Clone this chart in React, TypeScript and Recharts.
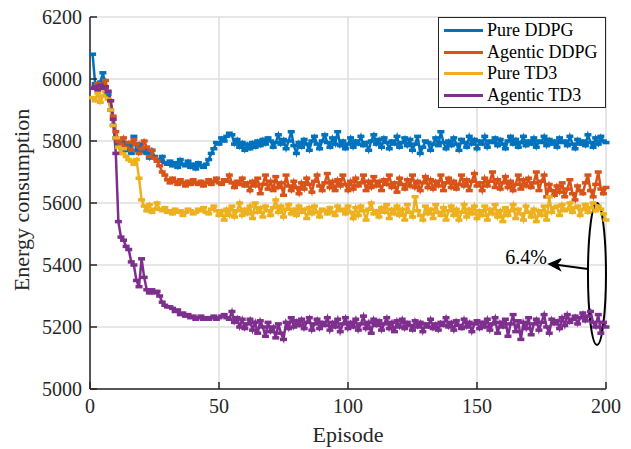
import React from 'react';
import { LineChart, Line, XAxis, YAxis, CartesianGrid, Legend, ReferenceDot } from 'recharts';

const FONT = "'Liberation Serif', 'Times New Roman', Tinos, serif";
const AXIS = '#262626';

const xTicks = [0, 50, 100, 150, 200];
const yTicks = [5000, 5200, 5400, 5600, 5800, 6000, 6200];

const pureDDPG = [
  6080, 5985, 5975, 5990, 6020, 5975, 5950, 5900, 5850, 5810,
  5790, 5780, 5795, 5770, 5785, 5760, 5815, 5770, 5790, 5765,
  5775, 5760, 5745, 5770, 5750, 5740, 5735, 5750, 5730, 5725,
  5735, 5720, 5730, 5715, 5740, 5725, 5720, 5735, 5715, 5725,
  5710, 5730, 5720, 5715, 5725, 5740, 5760, 5775, 5795, 5790,
  5810, 5800, 5815, 5825, 5820, 5790, 5805, 5780, 5795, 5770,
  5790, 5775, 5795, 5780, 5800, 5785, 5805, 5790, 5810, 5800,
  5780, 5795, 5820, 5790, 5805, 5775, 5800, 5830, 5785, 5760,
  5795, 5780, 5805, 5790, 5770, 5800, 5815, 5790, 5775, 5800,
  5820, 5795, 5780, 5810, 5790, 5830, 5785, 5800, 5775, 5790,
  5810, 5780, 5800, 5790, 5815, 5785, 5795, 5770, 5800, 5820,
  5790, 5805, 5780, 5810, 5795, 5775, 5800, 5790, 5815, 5780,
  5795, 5810, 5785, 5805, 5770, 5790, 5815, 5760, 5780, 5800,
  5795, 5770, 5790, 5810, 5785, 5830, 5795, 5775, 5800, 5785,
  5810, 5790, 5770, 5805, 5795, 5780, 5815, 5790, 5805, 5775,
  5800, 5790, 5815, 5780, 5800, 5795, 5810, 5785, 5805, 5790,
  5775, 5800, 5815, 5790, 5805, 5780, 5795, 5815, 5785, 5800,
  5790, 5810, 5780, 5800, 5795, 5815, 5785, 5805, 5790, 5800,
  5780, 5810, 5795, 5800, 5785, 5815, 5790, 5775, 5805, 5790,
  5800, 5785, 5820, 5795, 5780, 5810, 5790, 5815, 5800, 5795,
];

const agenticDDPG = [
  5970, 5975, 5985, 5970, 5980, 5995, 5960, 5930, 5880, 5830,
  5800, 5790, 5810, 5780, 5795, 5770, 5805, 5790, 5760, 5775,
  5800, 5780, 5750, 5770, 5745, 5735, 5720, 5700, 5690, 5675,
  5665, 5680, 5670, 5660, 5675, 5665, 5655, 5670, 5660, 5675,
  5665, 5660, 5670, 5655, 5665, 5675, 5660, 5670, 5680, 5665,
  5660, 5675, 5670, 5690, 5665, 5650, 5670, 5660, 5680, 5655,
  5665, 5640, 5670, 5655, 5680, 5630, 5660, 5690, 5645, 5670,
  5640, 5685, 5650, 5665, 5625, 5690, 5655, 5640, 5670, 5650,
  5630, 5665, 5645, 5680, 5660, 5635, 5670, 5690, 5655, 5640,
  5665, 5695, 5650, 5670, 5640, 5675, 5655, 5690, 5660, 5640,
  5670, 5645, 5680, 5655, 5665, 5690, 5640, 5670, 5650, 5685,
  5655, 5670, 5640, 5675, 5660, 5690, 5650, 5665, 5635, 5680,
  5660, 5645, 5675, 5655, 5690, 5650, 5670, 5640, 5665, 5685,
  5650, 5675, 5645, 5670, 5655, 5690, 5640, 5665, 5680, 5650,
  5670, 5645, 5660, 5690, 5655, 5675, 5640, 5670, 5695, 5655,
  5665, 5640, 5680, 5655, 5670, 5700, 5650, 5675, 5645, 5665,
  5685, 5650, 5670, 5640, 5660, 5690, 5645, 5675, 5655, 5680,
  5650, 5665, 5700, 5640, 5670, 5690, 5620, 5660, 5640, 5625,
  5655, 5635, 5665, 5620, 5645, 5675, 5630, 5610, 5655, 5640,
  5630, 5665, 5690, 5640, 5620, 5660, 5700, 5645, 5630, 5650,
];

const pureTD3 = [
  5940, 5930, 5955, 5925, 5945, 5960, 5935, 5900, 5850, 5810,
  5780, 5760, 5775, 5750, 5740, 5735, 5725, 5740, 5680, 5610,
  5590, 5575, 5595, 5570, 5580, 5600, 5580, 5575, 5585, 5570,
  5575, 5565, 5580, 5570, 5575, 5560, 5570, 5580, 5575, 5565,
  5570, 5580, 5575, 5585, 5570, 5565, 5580, 5590, 5575, 5560,
  5575, 5545, 5580, 5560, 5590, 5555, 5575, 5600, 5560, 5580,
  5565, 5590, 5550, 5600, 5570, 5585, 5555, 5590, 5575, 5560,
  5585, 5610, 5570, 5590, 5555, 5580, 5595, 5565, 5580, 5560,
  5590, 5570, 5580, 5550, 5585, 5565, 5590, 5570, 5555, 5580,
  5575, 5565, 5585, 5570, 5560, 5590, 5575, 5580, 5565, 5590,
  5570, 5550, 5585, 5560, 5590, 5575, 5545, 5580, 5600, 5565,
  5575, 5555, 5585, 5570, 5595, 5550, 5580, 5565, 5590, 5560,
  5580, 5545, 5595, 5570, 5555, 5620, 5575, 5560, 5545, 5590,
  5565, 5580, 5550, 5595, 5570, 5560, 5585, 5545, 5575, 5590,
  5560, 5580, 5545, 5570, 5595, 5555, 5580, 5565, 5590, 5550,
  5575, 5560, 5590, 5545, 5580, 5565, 5595, 5555, 5575, 5540,
  5585, 5560, 5575, 5595, 5550, 5580, 5565, 5545, 5590, 5570,
  5555, 5580, 5540, 5575, 5560, 5590, 5545, 5620, 5570, 5585,
  5590, 5560, 5595, 5575, 5580, 5600, 5570, 5585, 5590, 5560,
  5580, 5595, 5570, 5585, 5600, 5575, 5590, 5580, 5565, 5545,
];

const agenticTD3 = [
  5970, 5975, 5965, 5980, 5970, 5975, 5960, 5930, 5870, 5760,
  5540, 5490, 5480, 5460, 5450, 5410, 5400, 5350, 5330, 5420,
  5360, 5320, 5310, 5320, 5310, 5315, 5300, 5280, 5270, 5265,
  5265, 5260, 5250, 5255, 5240, 5245, 5235, 5240, 5230, 5235,
  5225, 5230, 5235, 5225, 5230, 5225, 5230, 5235, 5225, 5230,
  5235, 5240, 5230, 5225, 5250, 5215, 5230, 5200, 5225, 5195,
  5210, 5225, 5190, 5215, 5180, 5220, 5200, 5170, 5215, 5185,
  5200, 5165, 5210, 5180, 5160, 5215, 5195, 5230, 5200, 5220,
  5205, 5225, 5195, 5215, 5230, 5190, 5210, 5225, 5195, 5215,
  5205, 5230, 5190, 5215, 5200, 5225, 5185, 5210, 5230, 5195,
  5215, 5200, 5225, 5190, 5210, 5235, 5195, 5215, 5180, 5225,
  5205, 5220, 5190, 5210, 5230, 5195, 5215, 5185, 5220, 5200,
  5225, 5195, 5215, 5205, 5190, 5220, 5200, 5215, 5185, 5210,
  5200, 5225, 5195, 5210, 5190, 5215, 5205, 5230, 5200, 5215,
  5190, 5220, 5205, 5195, 5225, 5200, 5215, 5185, 5210, 5220,
  5195, 5215, 5200, 5225, 5190, 5210, 5230, 5180, 5215, 5200,
  5225, 5170, 5210, 5240, 5185, 5220, 5160, 5215, 5195, 5230,
  5175, 5210, 5225, 5190, 5215, 5240, 5200, 5180, 5225, 5210,
  5220, 5195, 5230, 5205, 5240, 5215, 5225, 5235, 5210, 5230,
  5245, 5220, 5235, 5250, 5215, 5200, 5240, 5180, 5215, 5200,
];

const seriesList = [
  { key: 'pureDDPG', name: 'Pure DDPG', color: '#0072BD' },
  { key: 'agenticDDPG', name: 'Agentic DDPG', color: '#D95319' },
  { key: 'pureTD3', name: 'Pure TD3', color: '#EDB120' },
  { key: 'agenticTD3', name: 'Agentic TD3', color: '#7E2F8E' },
];

const data = pureDDPG.map((v, i) => ({
  ep: i + 1,
  pureDDPG: v,
  agenticDDPG: agenticDDPG[i],
  pureTD3: pureTD3[i],
  agenticTD3: agenticTD3[i],
}));

const CSS = `
.chart-root, .chart-root * { font-family: 'Liberation Serif', 'Times New Roman', Tinos, serif !important; }
`;

const XTickBottom = (props: any) => {
  const { x, y, payload } = props;
  return (
    <g>
      <line x1={x} y1={y} x2={x} y2={y - 7} stroke={AXIS} strokeWidth={1.5} />
      <text x={x} y={y + 24} textAnchor="middle" fontSize={20} fill={AXIS} style={{ fontFamily: FONT }}>
        {payload.value}
      </text>
    </g>
  );
};

const XTickTop = (props: any) => {
  const { x, y } = props;
  return <line x1={x} y1={y} x2={x} y2={y + 7} stroke={AXIS} strokeWidth={1.5} />;
};

const YTickLeft = (props: any) => {
  const { x, y, payload } = props;
  return (
    <g>
      <line x1={x} y1={y} x2={x + 7} y2={y} stroke={AXIS} strokeWidth={1.5} />
      <text x={x - 8} y={y + 7} textAnchor="end" fontSize={20} fill={AXIS} style={{ fontFamily: FONT }}>
        {payload.value}
      </text>
    </g>
  );
};

const YTickRight = (props: any) => {
  const { x, y } = props;
  return <line x1={x} y1={y} x2={x - 7} y2={y} stroke={AXIS} strokeWidth={1.5} />;
};

const makeDot = (color: string) => (props: any) => {
  const { cx, cy, index } = props;
  if (cx == null || cy == null) return <g key={index} />;
  return <rect key={index} x={cx - 3.5} y={cy - 1.75} width={7} height={3.5} fill={color} />;
};

const renderLegend = () => (
  <div
    style={{
      boxSizing: 'border-box',
      width: 168,
      height: 91,
      border: `1.5px solid ${AXIS}`,
      background: '#fff',
      padding: '2px 0 0 5px',
      fontFamily: FONT,
      fontSize: 18,
      color: '#000',
    }}
  >
    {seriesList.map((s) => (
      <div key={s.key} style={{ display: 'flex', alignItems: 'center', height: 21.5, whiteSpace: 'nowrap' }}>
        <div style={{ width: 39, height: 3, background: s.color, marginRight: 4 }} />
        <span>{s.name}</span>
      </div>
    ))}
  </div>
);

const Annotation = (props: any) => {
  const { cx, cy } = props;
  if (cx == null || cy == null) return <g />;
  const tipX = cx - 48;
  const tipY = cy - 10;
  return (
    <g>
      <ellipse cx={cx} cy={cy} rx={9} ry={71} fill="none" stroke="#000" strokeWidth={2} />
      <line x1={cx - 9} y1={cy - 5} x2={tipX + 2} y2={tipY} stroke="#000" strokeWidth={2} />
      <path
        d={`M ${tipX + 12} ${tipY - 5} L ${tipX} ${tipY} L ${tipX + 11} ${tipY + 6} L ${tipX + 8} ${tipY} Z`}
        fill="#000"
        stroke="#000"
        strokeWidth={1.5}
      />
      <text x={tipX - 2} y={cy - 10} textAnchor="end" fontSize={20} fill="#000" style={{ fontFamily: FONT }}>
        6.4%
      </text>
    </g>
  );
};

export default function App() {
  return (
    <div className="chart-root" style={{ position: 'absolute', left: 0, top: 0, width: 631, height: 449, background: '#fff' }}>
      <style>{CSS}</style>
      <LineChart width={631} height={449} data={data} margin={{ top: 17, right: 25, bottom: 0, left: 0 }}>
        <CartesianGrid stroke="#dedede" strokeWidth={1.5} horizontalValues={yTicks} verticalValues={xTicks} />
        <XAxis
          dataKey="ep"
          type="number"
          domain={[0, 200]}
          ticks={xTicks}
          height={60}
          tickSize={0}
          tickMargin={0}
          tickLine={false}
          tick={<XTickBottom />}
          axisLine={{ stroke: AXIS, strokeWidth: 1.5 }}
          interval={0}
          label={{
            content: (p: any) => {
              const vb = p.viewBox || { x: 90, y: 389, width: 516 };
              return (
                <text x={vb.x + vb.width / 2} y={vb.y + 53} textAnchor="middle" fontSize={22} fill={AXIS} style={{ fontFamily: FONT }}>
                  Episode
                </text>
              );
            },
          }}
        />
        <XAxis
          xAxisId="top"
          orientation="top"
          dataKey="ep"
          type="number"
          domain={[0, 200]}
          ticks={xTicks}
          height={0}
          tickSize={0}
          tickMargin={0}
          tickLine={false}
          tick={<XTickTop />}
          axisLine={{ stroke: AXIS, strokeWidth: 1.5 }}
          interval={0}
        />
        <YAxis
          type="number"
          domain={[5000, 6200]}
          ticks={yTicks}
          width={90}
          tickSize={0}
          tickMargin={0}
          tickLine={false}
          tick={<YTickLeft />}
          axisLine={{ stroke: AXIS, strokeWidth: 1.5 }}
          interval={0}
          label={{
            content: (p: any) => {
              const vb = p.viewBox || { x: 0, y: 17, height: 372 };
              const cy = vb.y + vb.height / 2 - 3;
              return (
                <text
                  x={29}
                  y={cy}
                  transform={`rotate(-90 29 ${cy})`}
                  textAnchor="middle"
                  fontSize={22}
                  fill={AXIS}
                  style={{ fontFamily: FONT }}
                >
                  Energy consumption
                </text>
              );
            },
          }}
        />
        <YAxis
          yAxisId="right"
          orientation="right"
          type="number"
          domain={[5000, 6200]}
          ticks={yTicks}
          width={0}
          tickSize={0}
          tickMargin={0}
          tickLine={false}
          tick={<YTickRight />}
          axisLine={{ stroke: AXIS, strokeWidth: 1.5 }}
          interval={0}
        />
        {seriesList.map((s) => (
          <Line
            key={s.key}
            dataKey={s.key}
            name={s.name}
            stroke={s.color}
            strokeWidth={2.5}
            dot={makeDot(s.color)}
            activeDot={false}
            isAnimationActive={false}
          />
        ))}
        <ReferenceDot x={196.5} y={5371} shape={<Annotation />} ifOverflow="visible" />
        <Legend
          layout="vertical"
          align="center"
          verticalAlign="middle"
          content={renderLegend}
          wrapperStyle={{ position: 'absolute', left: 438, top: 17, width: 168, height: 91 }}
        />
      </LineChart>
    </div>
  );
}
